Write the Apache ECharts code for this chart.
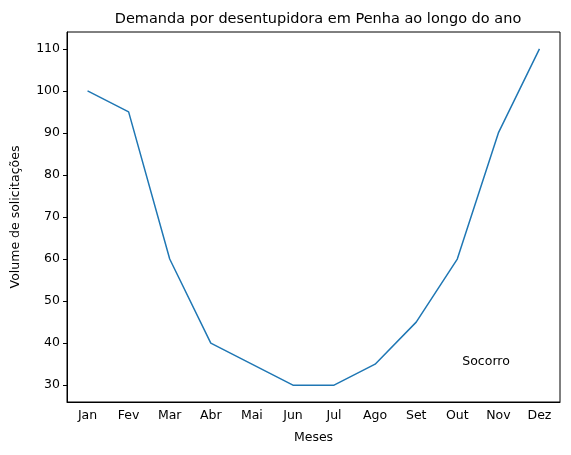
<!DOCTYPE html>
<html><head><meta charset="utf-8">
<script src="https://cdn.jsdelivr.net/npm/echarts@6/dist/echarts.min.js"></script>
<style>html,body{margin:0;padding:0;background:#fff}#c{width:571px;height:455px}</style>
</head><body><div id="c"></div>
<script>
const months = ['Jan','Fev','Mar','Abr','Mai','Jun','Jul','Ago','Set','Out','Nov','Dez'];
const demanda = [100,95,60,40,35,30,30,35,45,60,90,110];
const yTicks = [30,40,50,60,70,80,90,100,110];
const annotation = {text:'Socorro', x:'Out', y:35};
const font = 'DejaVu Sans';
const chart = echarts.init(document.getElementById('c'));
chart.setOption({
  animation:false,
  title:{text:'Demanda por desentupidora em Penha ao longo do ano',left:313,top:7,textAlign:'center',
    textStyle:{fontFamily:font,fontSize:14.5,fontWeight:'normal',color:'#000'}},
  grid:{left:67,right:11,top:32,bottom:53,show:true,borderColor:'#000',borderWidth:1},
  xAxis:{type:'category',data:months,boundaryGap:true,name:'Meses',nameLocation:'middle',nameGap:29,
    nameTextStyle:{fontFamily:font,fontSize:12.5,color:'#000'},
    axisLine:{lineStyle:{color:'#000'}},
    axisTick:{alignWithLabel:true,length:4,lineStyle:{color:'#000'}},
    axisLabel:{fontFamily:font,fontSize:12.5,color:'#000',margin:7},splitLine:{show:false}},
  yAxis:{type:'value',min:26,max:114,name:'Volume de solicitações',nameLocation:'middle',nameGap:45,
    nameTextStyle:{fontFamily:font,fontSize:12.5,color:'#000'},
    axisLine:{show:true,lineStyle:{color:'#000'}},
    axisTick:{show:true,length:4,customValues:yTicks,lineStyle:{color:'#000'}},
    axisLabel:{fontFamily:font,fontSize:12.5,color:'#000',customValues:yTicks,margin:7},
    splitLine:{show:false}},
  series:[{type:'line',data:demanda,symbol:'none',lineStyle:{color:'#1f77b4',width:1.5},
    markPoint:{symbol:'rect',symbolSize:0,data:[{coord:[annotation.x,annotation.y],
      label:{show:true,formatter:annotation.text,position:'right',distance:0,offset:[5,-2],fontFamily:font,fontSize:12.5,color:'#000'}}]}}]
});
</script></body></html>
